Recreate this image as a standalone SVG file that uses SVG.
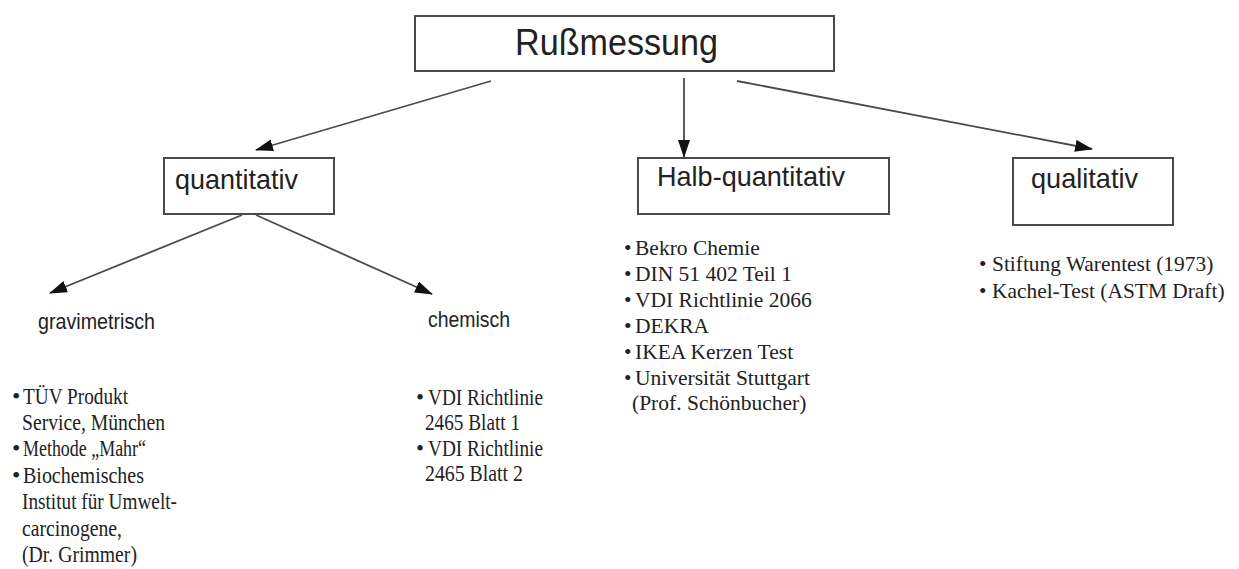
<svg xmlns="http://www.w3.org/2000/svg" width="1239" height="569" viewBox="0 0 1239 569">
  <style>
    .box { fill: #ffffff; stroke: #4a4a4a; stroke-width: 2; }
    .lbl { font-family: "Liberation Sans", Arial, sans-serif; fill: #222222; }
    .sub { font-family: "Liberation Sans", Arial, sans-serif; fill: #222222; font-size: 22px; }
    .lst { font-family: "Liberation Serif", "Times New Roman", serif; fill: #222222; }
    .con { stroke: #4a4a4a; stroke-width: 1.8; fill: none; marker-end: url(#head); }
  </style>
  <defs>
    <marker id="head" markerUnits="userSpaceOnUse" markerWidth="18" markerHeight="12" refX="17" refY="6" orient="auto">
      <path d="M0,0 L18,6 L0,12 z" fill="#111111"/>
    </marker>
  </defs>
  <rect width="1239" height="569" fill="#ffffff"/>

  <!-- connectors -->
  <g id="connectors">
    <line class="con" x1="491" y1="81" x2="256" y2="150"/>
    <line class="con" x1="684" y1="78" x2="684" y2="157"/>
    <line class="con" x1="737" y1="81" x2="1092" y2="149"/>
    <line class="con" x1="242" y1="215" x2="50" y2="293"/>
    <line class="con" x1="256" y1="215" x2="432" y2="294"/>
  </g>

  <!-- root -->
  <g id="node-russmessung">
    <rect class="box" x="415" y="16" width="419" height="55"/>
    <text class="lbl" x="515" y="55" font-size="36" textLength="203" lengthAdjust="spacingAndGlyphs">Rußmessung</text>
  </g>

  <!-- quantitativ branch -->
  <g id="node-quantitativ">
    <rect class="box" x="164" y="158" width="170" height="56"/>
    <text class="lbl" x="175" y="189" font-size="28" textLength="123" lengthAdjust="spacingAndGlyphs">quantitativ</text>
  </g>

  <g id="node-gravimetrisch">
    <text class="sub" x="38" y="329" textLength="117" lengthAdjust="spacingAndGlyphs">gravimetrisch</text>
    <g class="lst" font-size="24">
      <text x="12" y="404">•</text>
      <text x="23" y="404" textLength="105" lengthAdjust="spacingAndGlyphs">TÜV Produkt</text>
      <text x="22" y="430" textLength="143" lengthAdjust="spacingAndGlyphs">Service, München</text>
      <text x="12" y="456">•</text>
      <text x="23" y="456" textLength="123" lengthAdjust="spacingAndGlyphs">Methode „Mahr“</text>
      <text x="12" y="483">•</text>
      <text x="23" y="483" textLength="121" lengthAdjust="spacingAndGlyphs">Biochemisches</text>
      <text x="22" y="509" textLength="155" lengthAdjust="spacingAndGlyphs">Institut für Umwelt-</text>
      <text x="22" y="536" textLength="100" lengthAdjust="spacingAndGlyphs">carcinogene,</text>
      <text x="22" y="562" textLength="115" lengthAdjust="spacingAndGlyphs">(Dr. Grimmer)</text>
    </g>
  </g>

  <g id="node-chemisch">
    <text class="sub" x="428" y="327" textLength="82" lengthAdjust="spacingAndGlyphs">chemisch</text>
    <g class="lst" font-size="23">
      <text x="416" y="405">•</text>
      <text x="428" y="405" textLength="115" lengthAdjust="spacingAndGlyphs">VDI Richtlinie</text>
      <text x="425" y="430" textLength="95" lengthAdjust="spacingAndGlyphs">2465 Blatt 1</text>
      <text x="416" y="456">•</text>
      <text x="428" y="456" textLength="115" lengthAdjust="spacingAndGlyphs">VDI Richtlinie</text>
      <text x="425" y="481" textLength="98" lengthAdjust="spacingAndGlyphs">2465 Blatt 2</text>
    </g>
  </g>

  <!-- halb-quantitativ branch -->
  <g id="node-halb-quantitativ">
    <rect class="box" x="638" y="158" width="251" height="56"/>
    <text class="lbl" x="657" y="186" font-size="28" textLength="188" lengthAdjust="spacingAndGlyphs">Halb-quantitativ</text>
    <g class="lst" font-size="21.5">
      <text x="624" y="255">•</text>
      <text x="635" y="255">Bekro Chemie</text>
      <text x="624" y="281">•</text>
      <text x="635" y="281">DIN 51 402 Teil 1</text>
      <text x="624" y="307">•</text>
      <text x="635" y="307">VDI Richtlinie 2066</text>
      <text x="624" y="333">•</text>
      <text x="635" y="333">DEKRA</text>
      <text x="624" y="359">•</text>
      <text x="635" y="359">IKEA Kerzen Test</text>
      <text x="624" y="385">•</text>
      <text x="635" y="385">Universität Stuttgart</text>
      <text x="632" y="410">(Prof. Schönbucher)</text>
    </g>
  </g>

  <!-- qualitativ branch -->
  <g id="node-qualitativ">
    <rect class="box" x="1013" y="158" width="160" height="67"/>
    <text class="lbl" x="1031" y="188" font-size="28" textLength="107" lengthAdjust="spacingAndGlyphs">qualitativ</text>
    <g class="lst" font-size="21.4">
      <text x="979" y="271">•</text>
      <text x="992" y="271">Stiftung Warentest (1973)</text>
      <text x="979" y="298">•</text>
      <text x="992" y="298">Kachel-Test (ASTM Draft)</text>
    </g>
  </g>
</svg>
